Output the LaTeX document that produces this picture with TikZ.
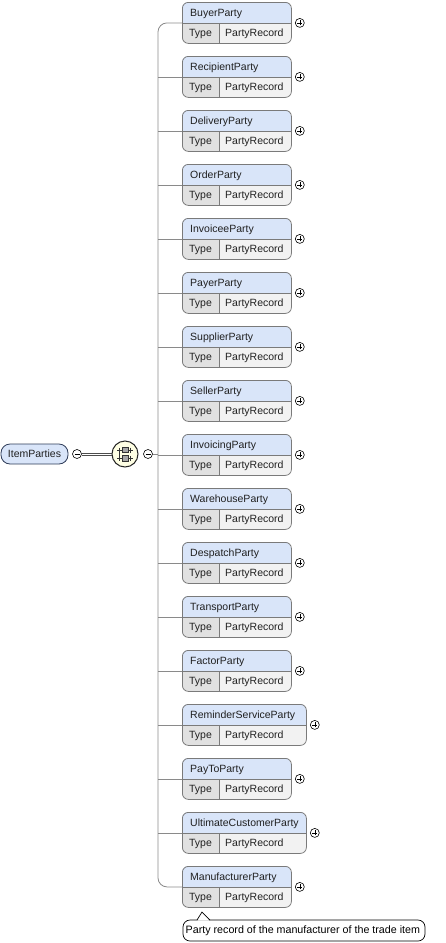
\documentclass[tikz,border=0pt]{standalone}
\usepackage{fontspec}
\setmainfont{Liberation Sans}
\definecolor{namefill}{HTML}{D9E5F9}
\definecolor{typefill}{HTML}{E1E1E1}
\definecolor{reffill}{HTML}{F2F2F2}
\definecolor{boxline}{HTML}{7A7A7A}
\definecolor{connline}{HTML}{8A8A8A}
\definecolor{rootline}{HTML}{2E3C58}
\definecolor{seqfill}{HTML}{FFFFE4}
\definecolor{txt}{HTML}{202020}
\tikzset{
  lbl/.style={font=\fontsize{10.5}{12}\selectfont, text=txt, inner sep=0pt},
  boxedge/.style={draw=boxline, line width=0.8pt},
  conn/.style={draw=connline, line width=0.8pt},
  expander/.style={circle, draw=black, line width=0.6pt, fill=white, minimum size=9pt, inner sep=0pt},
}
\begin{document}
\begin{tikzpicture}[x=1pt,y=-1pt]
\useasboundingbox (0,0) rectangle (446,943);
% party boxes
\foreach \nm/\w [count=\i from 0] in {BuyerParty/109,RecipientParty/109,DeliveryParty/109,OrderParty/109,InvoiceeParty/109,PayerParty/109,SupplierParty/109,SellerParty/109,InvoicingParty/109,WarehouseParty/109,DespatchParty/109,TransportParty/109,FactorParty/109,ReminderServiceParty/124,PayToParty/109,UltimateCustomerParty/124,ManufacturerParty/109}{
  \pgfmathsetmacro\t{2+54*\i}
  \begin{scope}
    \clip[rounded corners=6pt] (182,\t) rectangle ++(\w,41);
    \fill[namefill] (182,\t) rectangle ++(\w,21);
    \fill[typefill] (182,\t+21) rectangle (219,\t+41);
    \fill[reffill] (219,\t+21) rectangle (182+\w,\t+41);
  \end{scope}
  \node[minimum width=\w pt, minimum height=41pt, inner sep=0pt, anchor=north west, draw=boxline, line width=0.8pt, rounded corners=6pt] (b\i) at (182,\t) {};
  \draw[boxedge] (182,\t+21) -- ++(\w,0);
  \draw[boxedge] (219,\t+21) -- (219,\t+41);
  \node[lbl, anchor=west] (n\i) at (190,\t+11.5) {\nm};
  \node[lbl] (ty\i) at (200.5,\t+31.5) {Type};
  \node[lbl, anchor=west] (r\i) at (225,\t+31.5) {PartyRecord};
  \node[expander] (p\i) at ([xshift=8pt]b\i.east) {};
  \draw[line width=0.6pt] ([xshift=-2.5pt]p\i.center) -- ([xshift=2.5pt]p\i.center);
  \draw[line width=0.6pt] ([yshift=-2.5pt]p\i.center) -- ([yshift=2.5pt]p\i.center);
}
% root
\node[lbl, draw=rootline, fill=namefill, line width=0.8pt, rounded corners=9pt, minimum width=67pt, minimum height=20pt] (root) at (34.5,454) {ItemParties};
\node[expander] (m1) at (77,454) {};
\draw[line width=0.6pt] ([xshift=-2.5pt]m1.center) -- ([xshift=2.5pt]m1.center);
% sequence compositor
\node[circle, draw=black!85, line width=1pt, fill=seqfill, minimum size=26pt, inner sep=0pt] (seq) at (125,454) {};
\draw[black!70, line width=0.7pt] ([yshift=-1.1pt]m1.east) -- ([yshift=-1.1pt]seq.west);
\draw[black!70, line width=0.7pt] ([yshift=1.1pt]m1.east) -- ([yshift=1.1pt]seq.west);
\draw[line width=0.7pt, black!80] (117,450) -- (133,450) (117,458) -- (133,458) (119.5,447.5) -- (119.5,460.5) (130.5,447.5) -- (130.5,452.5) (130.5,455.5) -- (130.5,460.5);
\fill[gray!70, draw=black!80, line width=0.6pt] (122,447) rectangle (128,452.5);
\fill[gray!70, draw=black!80, line width=0.6pt] (122,455.5) rectangle (128,461);
\node[expander] (m2) at (148,454) {};
\draw[line width=0.6pt] ([xshift=-2.5pt]m2.center) -- ([xshift=2.5pt]m2.center);
% trunk
\coordinate (trunk) at (158,454);
\draw[conn] (m2.east) -- (trunk);
\draw[conn, rounded corners=9pt] (b0.west) -| (trunk) |- (b16.west);
\foreach \i in {1,...,15}{
  \draw[conn] (b\i.west -| trunk) -- (b\i.west);
}
% tooltip
\node[font=\fontsize{10.7}{12}\selectfont, text=black, inner sep=0pt, anchor=west] (tip) at (185.5,930.5) {Party record of the manufacturer of the trade item};
\draw[black, line width=0.7pt, rounded corners=7pt] (183,920) rectangle (425,941);
\fill[white] (197.5,920.6) -- (202,912.5) -- (209.5,920.6) -- cycle;
\draw[black, line width=0.7pt] (197,920) -- (202,912) -- (210,920);
\end{tikzpicture}
\end{document}
